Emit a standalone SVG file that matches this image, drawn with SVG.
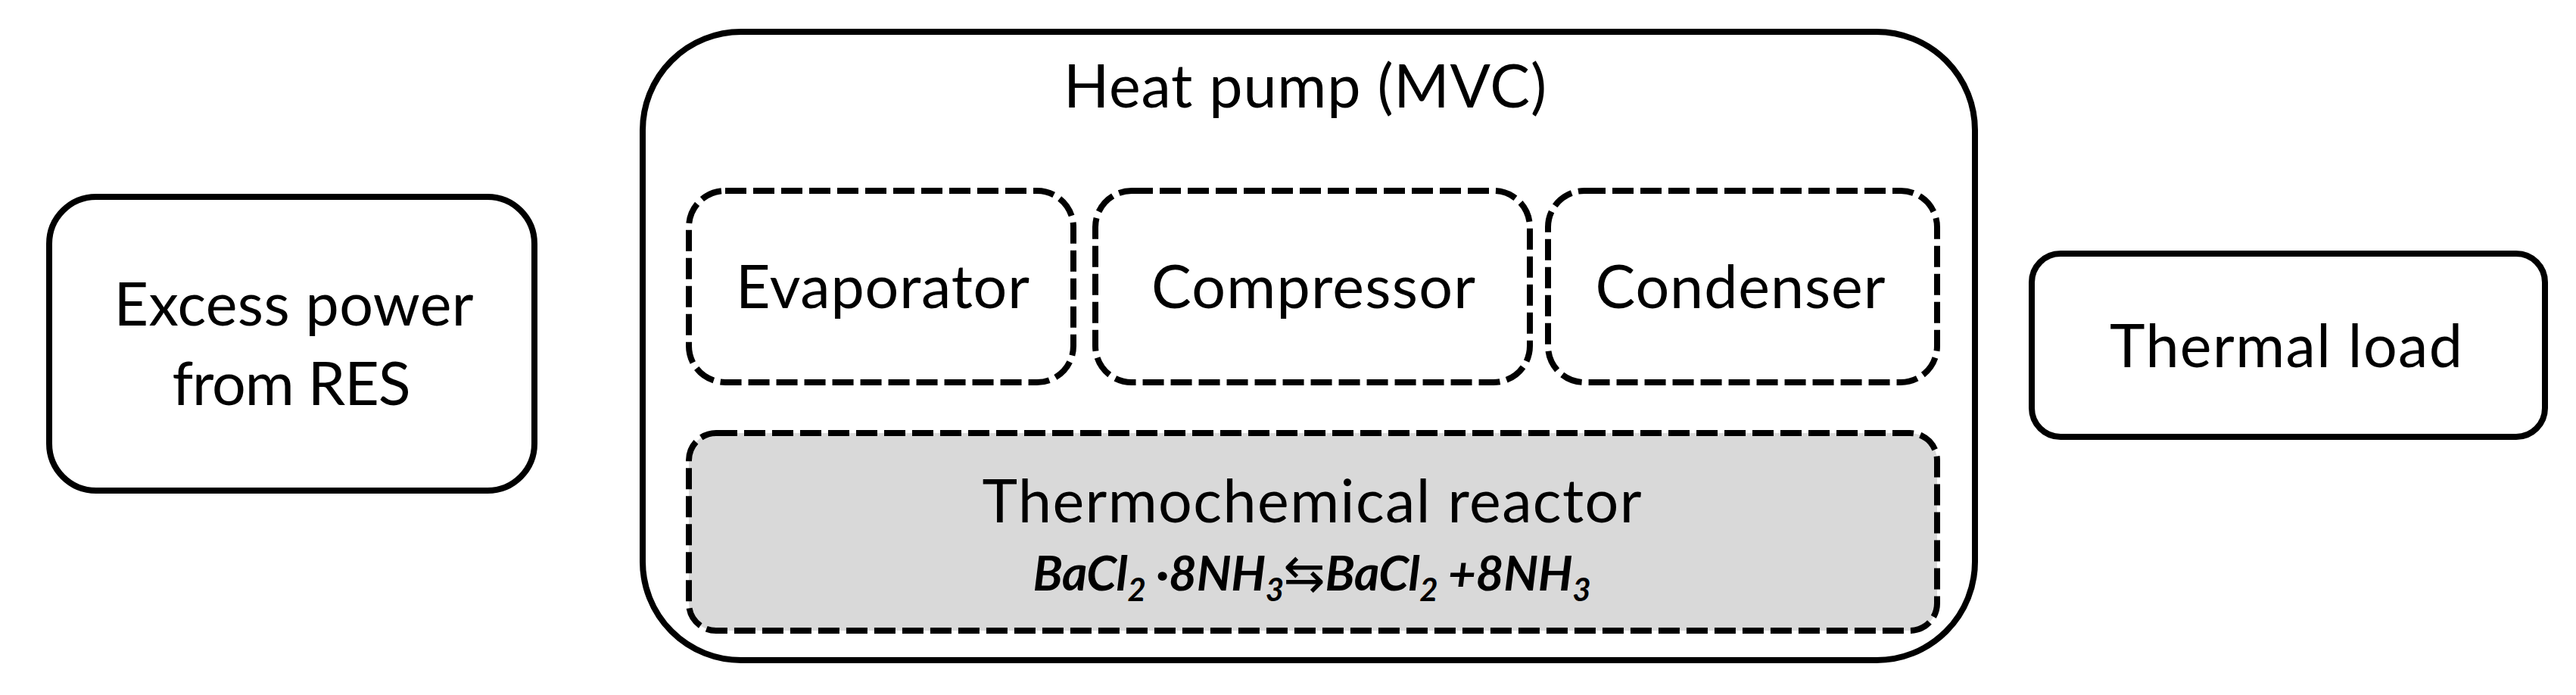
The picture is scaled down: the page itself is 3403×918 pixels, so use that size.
<svg xmlns="http://www.w3.org/2000/svg" width="3403" height="918" viewBox="0 0 3403 918">
<style>
.box{fill:#fff;stroke:#000;stroke-width:8}
.dash{fill:#fff;stroke:#000;stroke-width:8;stroke-dasharray:28 9}
.gray{fill:#d9d9d9}
.lbl{font-family:Lato,"Open Sans","DejaVu Sans",sans-serif;font-size:79px;fill:#000;text-anchor:middle}
.eq{font-family:Lato,"Open Sans","DejaVu Sans",sans-serif;font-size:64px;font-weight:bold;font-style:italic;fill:#000;text-anchor:middle}
.sub{font-size:42px}
.arr{font-family:"DejaVu Sans",sans-serif;font-weight:normal;font-style:normal;font-size:66px}
.conn{stroke:#000;stroke-width:8;fill:none}
</style>
<defs>
<filter id="sh" x="-20%" y="-200%" width="140%" height="500%">
<feDropShadow dx="0" dy="7" stdDeviation="4" flood-color="#000" flood-opacity="0.35"/>
</filter>
</defs>
<g id="connectors">
<line class="conn" x1="706" y1="455" x2="849" y2="455" filter="url(#sh)"/>
<line class="conn" x1="2609" y1="457" x2="2684" y2="457" filter="url(#sh)"/>
</g>
<g id="excess-power">
<rect class="box" x="65" y="260" width="641" height="388" rx="62" ry="62"/>
<text class="lbl" x="388" y="430" textLength="475" lengthAdjust="spacing">Excess power</text>
<text class="lbl" x="385" y="535" textLength="315" lengthAdjust="spacing">from RES</text>
</g>
<g id="heat-pump">
<rect class="box" x="849" y="42" width="1760" height="830" rx="130" ry="130"/>
<text class="lbl" x="1724" y="142" textLength="638" lengthAdjust="spacing">Heat pump (MVC)</text>
</g>
<g id="evaporator">
<rect class="dash" x="910" y="252" width="508" height="253" rx="48" ry="48"/>
<text class="lbl" x="1166" y="407" textLength="388" lengthAdjust="spacing">Evaporator</text>
</g>
<g id="compressor">
<rect class="dash" x="1447" y="252" width="574" height="253" rx="48" ry="48"/>
<text class="lbl" x="1735" y="407" textLength="428" lengthAdjust="spacing">Compressor</text>
</g>
<g id="condenser">
<rect class="dash" x="2045" y="252" width="514" height="253" rx="48" ry="48"/>
<text class="lbl" x="2299" y="407" textLength="383" lengthAdjust="spacing">Condenser</text>
</g>
<g id="reactor">
<rect class="dash gray" x="910" y="572" width="1649" height="261" rx="36" ry="36"/>
<text class="lbl" x="1733" y="690" textLength="871" lengthAdjust="spacing">Thermochemical reactor</text>
<text class="eq" x="1733" y="780" textLength="737" lengthAdjust="spacing">BaCl<tspan class="sub" dy="14">2</tspan><tspan dy="-14"> ·8NH</tspan><tspan class="sub" dy="14">3</tspan><tspan class="arr" dy="-14">⇆</tspan><tspan>BaCl</tspan><tspan class="sub" dy="14">2</tspan><tspan dy="-14"> +8NH</tspan><tspan class="sub" dy="14">3</tspan></text>
</g>
<g id="thermal-load">
<rect class="box" x="2684" y="335" width="678" height="242" rx="38" ry="38"/>
<text class="lbl" x="3020" y="485" textLength="466" lengthAdjust="spacing">Thermal load</text>
</g>
</svg>
